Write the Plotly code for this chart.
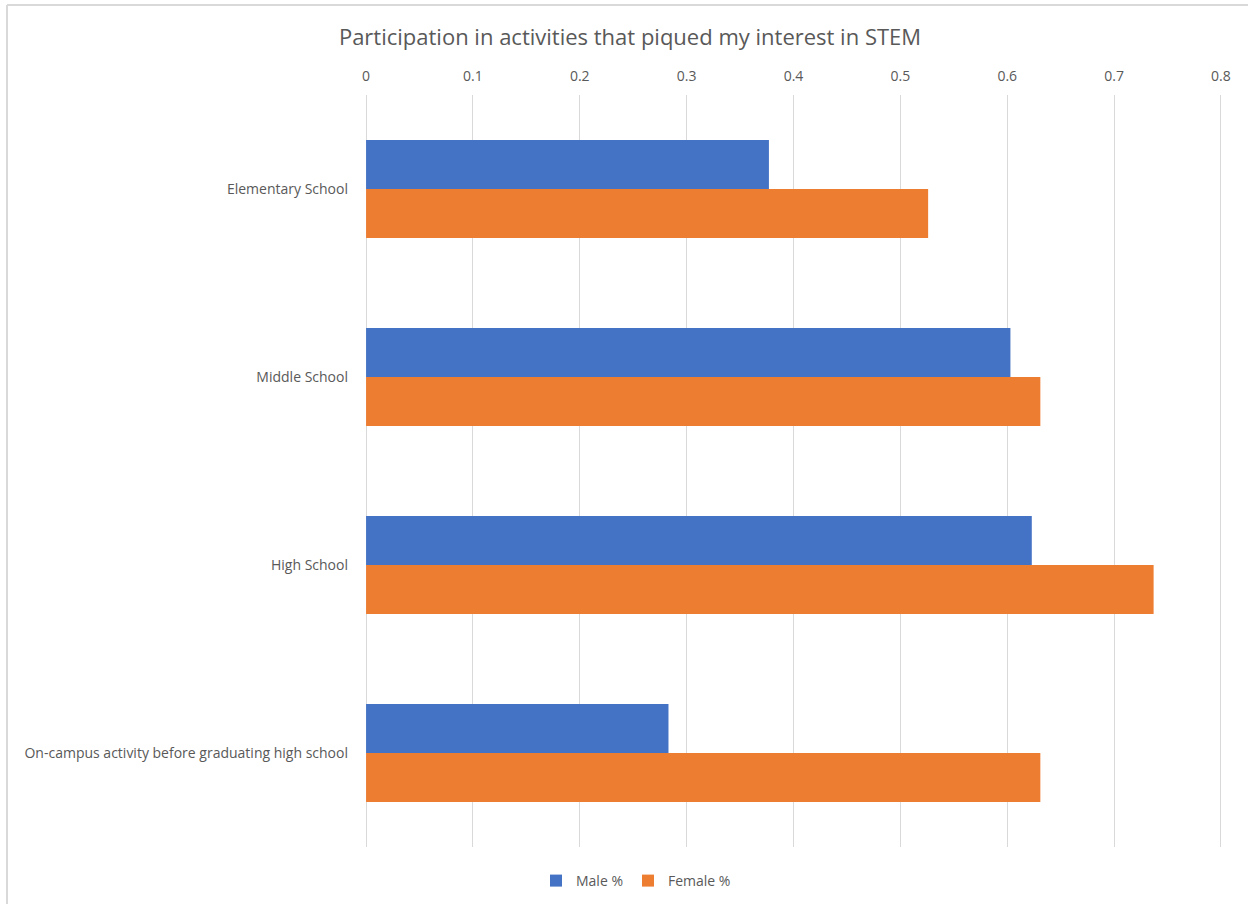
import plotly.graph_objects as go

categories = ["Elementary School", "Middle School", "High School",
              "On-campus activity before graduating high school"]
male = [0.377, 0.603, 0.623, 0.283]
female = [0.526, 0.631, 0.737, 0.631]
x_ticks = [0, 0.1, 0.2, 0.3, 0.4, 0.5, 0.6, 0.7, 0.8]
x_tick_labels = ["0", "0.1", "0.2", "0.3", "0.4", "0.5", "0.6", "0.7", "0.8"]

FONT = "Open Sans"
GRAY = "#595959"
GRID = "#d9d9d9"

fig = go.Figure()
fig.add_trace(go.Bar(y=categories, x=male, name="Male %", orientation="h",
                     marker=dict(color="#4472C4", line=dict(width=0))))
fig.add_trace(go.Bar(y=categories, x=female, name="Female %", orientation="h",
                     marker=dict(color="#ED7D31", line=dict(width=0))))

L, R, T, B = 365, 1222, 95, 847
W, H = 1248, 904
pw, ph = R - L, B - T

def px_x(p):
    return (p - L) / pw

def px_y(p):
    return (B - p) / ph

border = dict(color=GRID, width=2)
fig.add_shape(type="line", xref="paper", yref="paper",
              x0=px_x(7), x1=px_x(1260), y0=px_y(5), y1=px_y(5), line=border)
fig.add_shape(type="line", xref="paper", yref="paper",
              x0=px_x(7), x1=px_x(7), y0=px_y(5), y1=px_y(920), line=border)

fig.update_layout(
    width=W, height=H,
    margin=dict(l=L, r=W - R, t=T, b=H - B, autoexpand=False),
    paper_bgcolor="white", plot_bgcolor="white",
    barmode="group", bargap=0.48, bargroupgap=0,
    font=dict(family=FONT, color=GRAY, size=14),
    title=dict(text="Participation in activities that piqued my interest in STEM",
               x=630 / W, xanchor="center",
               y=1 - 37 / H, yanchor="middle", yref="container",
               font=dict(size=22, color=GRAY, family=FONT)),
    xaxis=dict(side="top", range=[-0.001, 0.801], tickvals=x_ticks, ticktext=x_tick_labels,
               showgrid=True, gridcolor=GRID, gridwidth=1.3,
               zeroline=True, zerolinecolor=GRID, zerolinewidth=1.3,
               showline=False, ticks="",
               ticklabelstandoff=10, tickfont=dict(size=14, color=GRAY)),
    yaxis=dict(categoryorder="array", categoryarray=categories,
               autorange="reversed", showgrid=False, zeroline=False,
               showline=False, ticks="", ticklabelstandoff=16,
               tickfont=dict(size=14, color=GRAY)),
    legend=dict(orientation="h", xref="container", yref="container",
                x=636 / W, xanchor="center", y=1 - 881 / H, yanchor="middle",
                font=dict(size=14, color=GRAY), itemwidth=30,
                traceorder="normal"),
)

fig.write_html("out.html", config={"displayModeBar": False},
               post_script="document.body.style.margin='0';")
